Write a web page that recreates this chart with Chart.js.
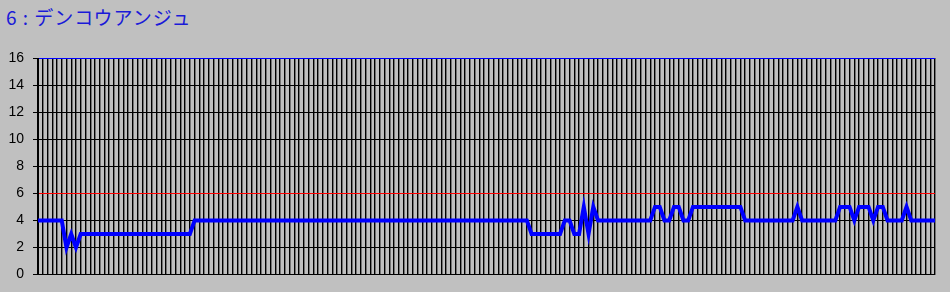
<!DOCTYPE html>
<html>
<head>
<meta charset="utf-8">
<script src="https://cdn.jsdelivr.net/npm/chart.js@4"></script>
<style>
  html, body { margin: 0; padding: 0; background: #c0c0c0; }
  #wrap { position: relative; width: 950px; height: 292px; }
  #title {
    position: absolute; left: 6px; top: 4px;
    font: 19px "Noto Sans CJK JP", sans-serif;
    letter-spacing: 1px; color: #1a1ad8; line-height: 26px;
  }
  canvas { position: absolute; left: 0; top: 0; }
</style>
</head>
<body>
<div id="wrap">
  <div id="title"></div>
  <canvas id="chart" width="950" height="292"></canvas>
</div>
<script>
(function () {
  "use strict";

  var titleText = "6 : デンコウアンジュ";

  var values = [
    4, 4, 4, 4, 4, 4, 2, 3, 2, 3,
    3, 3, 3, 3, 3, 3, 3, 3, 3, 3,
    3, 3, 3, 3, 3, 3, 3, 3, 3, 3,
    3, 3, 3, 4, 4, 4, 4, 4, 4, 4,
    4, 4, 4, 4, 4, 4, 4, 4, 4, 4,
    4, 4, 4, 4, 4, 4, 4, 4, 4, 4,
    4, 4, 4, 4, 4, 4, 4, 4, 4, 4,
    4, 4, 4, 4, 4, 4, 4, 4, 4, 4,
    4, 4, 4, 4, 4, 4, 4, 4, 4, 4,
    4, 4, 4, 4, 4, 4, 4, 4, 4, 4,
    4, 4, 4, 4, 3, 3, 3, 3, 3, 3,
    3, 4, 4, 3, 3, 5, 3, 5, 4, 4,
    4, 4, 4, 4, 4, 4, 4, 4, 4, 4,
    5, 5, 4, 4, 5, 5, 4, 4, 5, 5,
    5, 5, 5, 5, 5, 5, 5, 5, 5, 4,
    4, 4, 4, 4, 4, 4, 4, 4, 4, 4,
    5, 4, 4, 4, 4, 4, 4, 4, 4, 5,
    5, 5, 4, 5, 5, 5, 4, 5, 5, 4,
    4, 4, 4, 5, 4, 4, 4, 4, 4, 4
  ];
  var labels = values.map(function (v, i) { return String(i + 1); });

  var yTicks = [0, 2, 4, 6, 8, 10, 12, 14, 16];
  var limitValue = 6;
  var topValue = 16;

  document.getElementById("title").textContent = titleText;

  new Chart(document.getElementById("chart"), {
    type: "line",
    data: {
      labels: labels,
      datasets: [
        {
          data: values,
          borderColor: "#0000ff",
          backgroundColor: "#0000ff",
          borderWidth: 4,
          pointRadius: 0,
          tension: 0,
          fill: false,
        },
      ],
    },
    options: {
      responsive: false,
      animation: false,
      events: [],
      layout: { padding: { top: 58, right: 15, bottom: 16, left: 0 } },
      plugins: {
        legend: { display: false },
        title: { display: false },
        tooltip: { enabled: false },
      },
      scales: {
        x: {
          offset: false,
          grid: { color: "#000", lineWidth: 1.4, drawTicks: false, offset: false },
          border: { color: "#000", width: 1 },
          ticks: { display: false, autoSkip: false },
          afterFit: function (scale) { scale.height = 0; },
        },
        y: {
          min: 0,
          max: 16,
          afterBuildTicks: function (scale) {
            scale.ticks = yTicks.map(function (v) { return { value: v }; });
          },
          afterFit: function (scale) { scale.width = 38; },
          grid: {
            lineWidth: 1,
            tickLength: 5,
            tickColor: "#000",
            color: function (ctx) {
              var v = ctx.tick && ctx.tick.value;
              if (v === topValue) return "#0000ff";
              if (v === limitValue) return "#ff0000";
              return "#000";
            },
          },
          border: { color: "#000", width: 1 },
          ticks: {
            padding: 9,
            color: "#000",
            font: { family: "Liberation Sans", size: 14 },
          },
        },
      },
    },
  });
})();
</script>
</body>
</html>
